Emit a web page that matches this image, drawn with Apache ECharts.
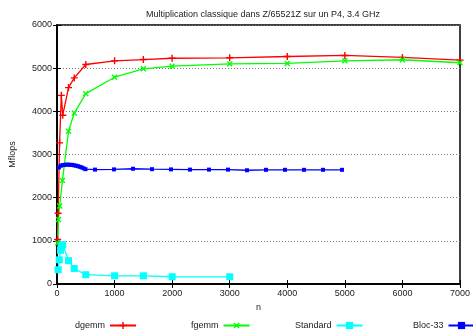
<!DOCTYPE html>
<html>
<head>
<meta charset="utf-8">
<script src="https://cdn.jsdelivr.net/npm/echarts@6/dist/echarts.min.js"></script>
<style>
  html, body { margin: 0; padding: 0; background: #fff; }
  #chart { width: 473px; height: 330px; }
</style>
</head>
<body>
<div id="chart"></div>
<script>
// values (n, Mflops)
const dgemmN    = [10, 20, 45, 75, 100, 200, 300, 500, 1000, 1500, 2000, 3000, 4000, 5000, 6000, 7000];
const dgemmV    = [1030, 1640, 3270, 4370, 3910, 4550, 4775, 5085, 5170, 5200, 5230, 5240, 5270, 5295, 5250, 5185];
const fgemmN    = [12, 25, 46, 95, 200, 300, 500, 1000, 1500, 2000, 3000, 4000, 5000, 6000, 7000];
const fgemmV    = [950, 1495, 1805, 2400, 3540, 3960, 4410, 4790, 4985, 5045, 5100, 5110, 5170, 5195, 5125];
const standardN = [20, 40, 60, 70, 100, 200, 300, 500, 1000, 1500, 2000, 3000];
const standardV = [330, 560, 780, 855, 910, 540, 360, 215, 190, 190, 168, 167];
const blocN     = [33, 66, 99, 132, 165, 198, 231, 264, 297, 330, 363, 396, 429, 462, 495,
                   660, 990, 1320, 1650, 1980, 2310, 2640, 2970, 3300, 3630, 3960, 4290, 4620, 4950];
const blocV     = [2700, 2740, 2755, 2760, 2765, 2765, 2760, 2760, 2750, 2740, 2730, 2715, 2700, 2680, 2660,
                   2650, 2655, 2670, 2660, 2655, 2650, 2650, 2650, 2635, 2645, 2645, 2645, 2645, 2645];

const FONT = 'Liberation Sans';
const TXT = '#222';
const plus = 'path://M4,0H6V4H10V6H6V10H4V6H0V4H4Z';

const pairs = (xs, ys) => xs.map((x, i) => [x, ys[i]]);

function mkSeries(name, xs, ys, color, symbol, size, rotate) {
  return {
    name,
    type: 'line',
    data: pairs(xs, ys),
    symbol,
    symbolSize: size,
    symbolRotate: rotate || 0,
    showSymbol: true,
    lineStyle: { color, width: 1.3 },
    itemStyle: { color, borderWidth: 0 },
    emphasis: { disabled: true },
    animation: false,
  };
}

const chart = echarts.init(document.getElementById('chart'), null, { renderer: 'canvas' });

const legendBase = {
  top: 320,
  padding: 0,
  align: 'right',
  itemWidth: 26,
  itemHeight: 9,
  textStyle: { fontFamily: FONT, fontSize: 9, color: TXT, lineHeight: 11 },
  selectedMode: false,
};

// mirrored ticks on top / right, like gnuplot's border
const mirror = {
  type: 'value',
  axisLine: { show: true, lineStyle: { color: '#000', width: 1.5 } },
  axisTick: { show: true, inside: true, length: 4, lineStyle: { color: '#000' } },
  axisLabel: { show: false },
  splitLine: { show: false },
};

chart.setOption({
  animation: false,
  backgroundColor: '#fff',
  title: {
    text: 'Multiplication classique dans Z/65521Z sur un P4, 3.4 GHz',
    left: 258, top: 5, textAlign: 'center',
    textStyle: { fontFamily: FONT, fontSize: 9, fontWeight: 'normal', color: TXT },
  },
  grid: { left: 55, right: 11, top: 25, bottom: 46, containLabel: false,
          show: true, borderColor: '#000', borderWidth: 1.5 },
  legend: [
    { ...legendBase, data: ['dgemm'], left: 75 },
    { ...legendBase, data: ['fgemm'], left: 191 },
    { ...legendBase, data: ['Standard'], left: 295 },
    { ...legendBase, data: ['Bloc-33'], left: 413 },
  ],
  xAxis: [
    {
      type: 'value', min: 0, max: 7000, interval: 1000,
      name: 'n', nameLocation: 'middle', nameGap: 18,
      nameTextStyle: { fontFamily: FONT, fontSize: 9, color: TXT },
      axisLine: { show: true, onZero: false, lineStyle: { color: '#000', width: 1.5 } },
      axisTick: { show: true, inside: true, length: 4, lineStyle: { color: '#000' } },
      axisLabel: { fontFamily: FONT, fontSize: 9, color: TXT, margin: 5, formatter: v => String(v) },
      splitLine: { show: false },
    },
    { ...mirror, min: 0, max: 7000, interval: 1000, position: 'top' },
  ],
  yAxis: [
    {
      type: 'value', min: 0, max: 6000, interval: 1000,
      name: 'Mflops', nameLocation: 'middle', nameGap: 40, nameRotate: 90,
      nameTextStyle: { fontFamily: FONT, fontSize: 9, color: TXT },
      axisLine: { show: true, onZero: false, lineStyle: { color: '#000', width: 1.5 } },
      axisTick: { show: true, inside: true, length: 4, lineStyle: { color: '#000' } },
      axisLabel: { fontFamily: FONT, fontSize: 9, color: TXT, margin: 5, formatter: v => String(v) },
      splitLine: { show: true, lineStyle: { color: '#777', type: [1, 2], width: 1 } },
    },
    { ...mirror, min: 0, max: 6000, interval: 1000, position: 'right' },
  ],
  series: [
    mkSeries('dgemm', dgemmN, dgemmV, '#ff0000', plus, 7, 0),
    mkSeries('fgemm', fgemmN, fgemmV, '#00ff00', plus, 7, 45),
    mkSeries('Standard', standardN, standardV, '#00ffff', 'rect', 7, 0),
    mkSeries('Bloc-33', blocN, blocV, '#0000ff', 'rect', 4, 0),
    // empty series so the mirrored axes get drawn
    { type: 'line', xAxisIndex: 1, yAxisIndex: 1, data: [], silent: true },
  ],
});
</script>
</body>
</html>
